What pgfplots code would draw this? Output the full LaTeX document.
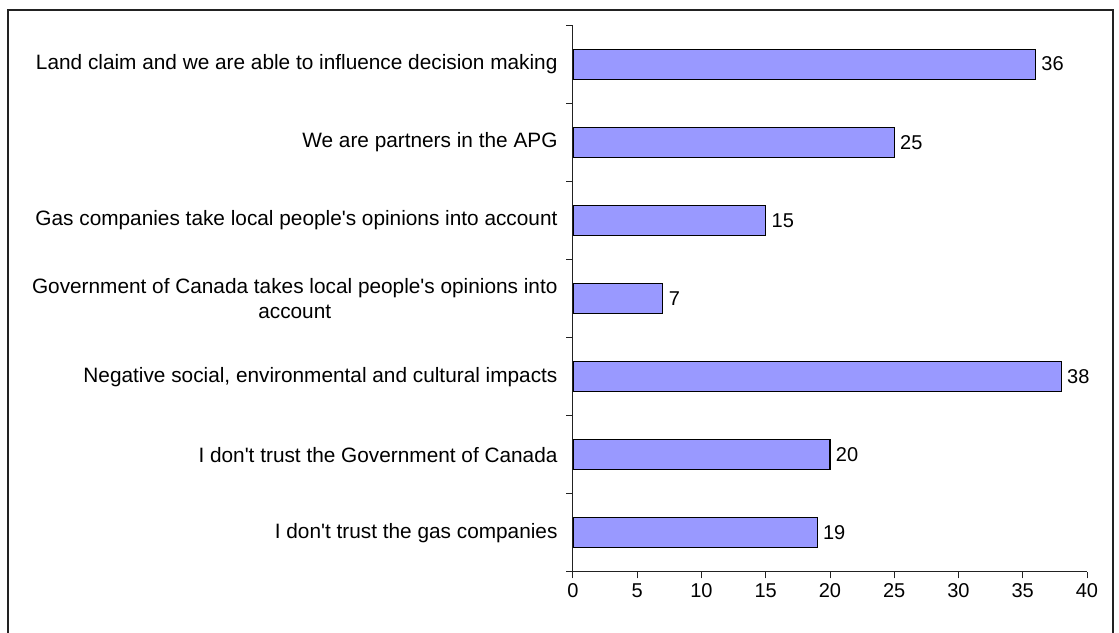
\documentclass[border=0pt]{standalone}
\usepackage{pgfplots}
\pgfplotsset{compat=1.18}
\usepackage{fontspec}
\setmainfont{Liberation Sans}
\definecolor{barfill}{HTML}{9999FF}
\definecolor{axc}{HTML}{222222}
\begin{document}
\begin{tikzpicture}[x=1pt,y=1pt]
\useasboundingbox (0,0) rectangle (1119,632);
\draw[axc, line width=1.2pt] (8,-5) -- (8,622) -- (1113,622) -- (1113,-5);
\begin{axis}[
  at={(573pt,60pt)}, anchor=south west,
  scale only axis, width=514pt, height=547pt,
  xmin=0, xmax=40, ymin=-0.5, ymax=6.5,
  axis lines=left, axis line style={-, axc, line width=1pt},
  xtick={0,5,...,40},
  minor xtick={0,5,...,40},
  ytick={0,...,6},
  yticklabels={I don\textquotesingle t trust the gas companies, I don\textquotesingle t trust the Government of Canada, {Negative social, environmental and cultural impacts}, {Government of Canada takes local people\textquotesingle s opinions into\\account}, Gas companies take local people\textquotesingle s opinions into account, We are partners in the APG, Land claim and we are able to influence decision making},
  minor ytick={-0.5,0.5,...,6.5},
  tick align=outside,
  major tick length=0pt,
  minor tick length=6.5pt,
  tick style={axc, line width=1pt},
  yticklabel style={align=center, font=\fontsize{20.8}{24.5}\selectfont, xshift=-12pt},
  xticklabel style={font=\fontsize{20}{24}\selectfont, yshift=-8pt},
  /pgf/number format/assume math mode=true,
  xbar, bar width=30pt,
  nodes near coords,
  nodes near coords style={font=\fontsize{20}{24}\selectfont, anchor=west, xshift=2pt, text=black},
  clip=false,
]
\addplot[fill=barfill, draw=black, line width=1.1pt] coordinates {
  (19,0) (20,1) (38,2) (7,3) (15,4) (25,5) (36,6)
};
\draw[axc, line width=1pt] (axis cs:0,-0.5) -- (axis cs:0,6.5);
\end{axis}
\end{tikzpicture}
\end{document}
